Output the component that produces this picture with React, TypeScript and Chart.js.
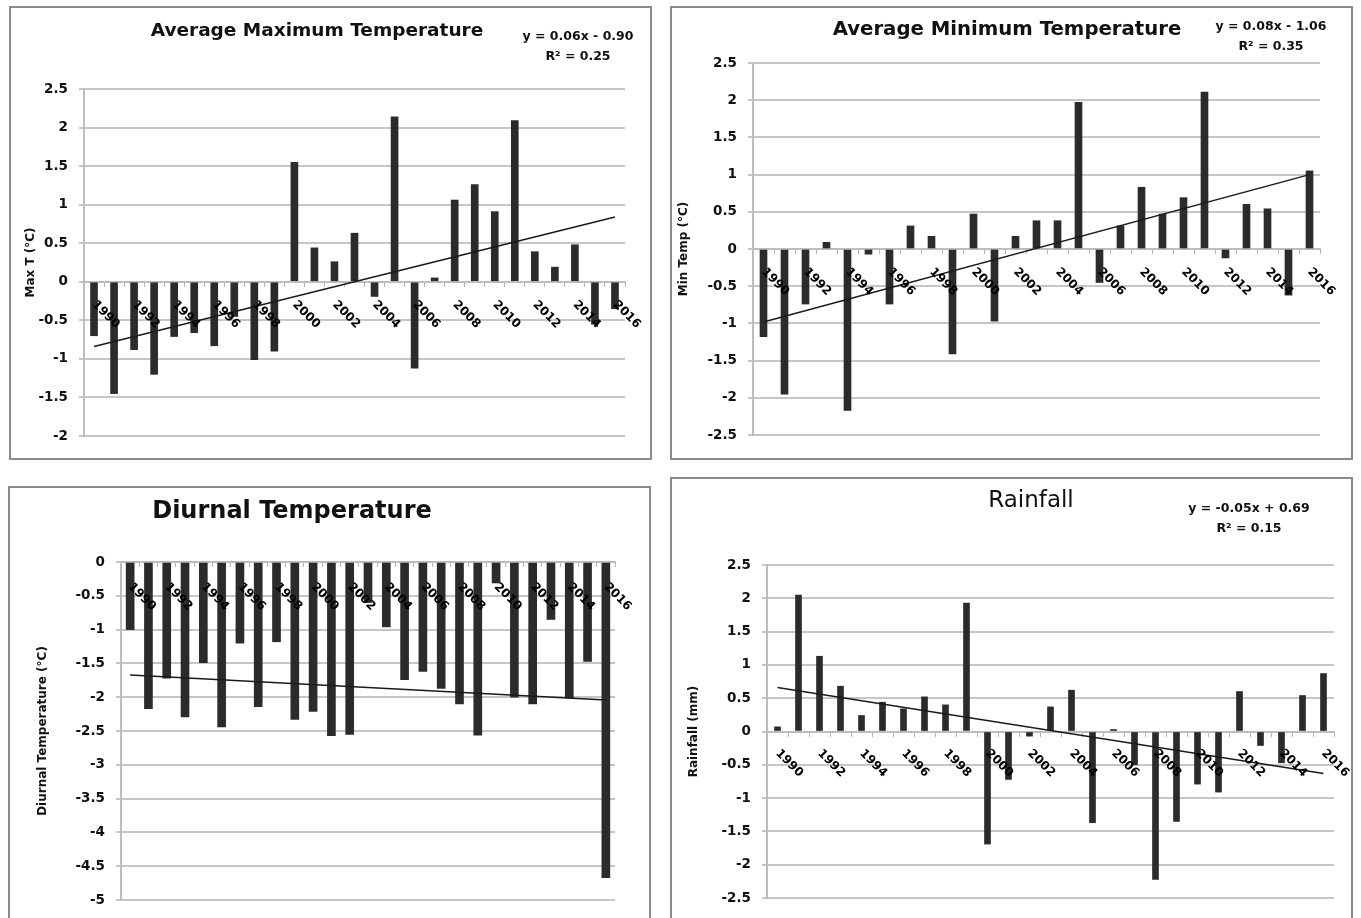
import React, { useEffect, useRef } from "react";
import { Chart, registerables } from "chart.js";

Chart.register(...registerables);

// ---------- DATA ----------
const years = [
  "1990", "1991", "1992", "1993", "1994", "1995", "1996", "1997", "1998", "1999",
  "2000", "2001", "2002", "2003", "2004", "2005", "2006", "2007", "2008", "2009",
  "2010", "2011", "2012", "2013", "2014", "2015", "2016",
];

const xTickLabels = [
  "1990", "1992", "1994", "1996", "1998", "2000", "2002",
  "2004", "2006", "2008", "2010", "2012", "2014", "2016",
];

const maxTempAnomaly = [
  -0.7, -1.45, -0.88, -1.2, -0.71, -0.66, -0.83, -0.45, -1.01, -0.9,
  1.55, 0.44, 0.26, 0.63, -0.19, 2.14, -1.12, 0.05, 1.06, 1.26,
  0.91, 2.09, 0.39, 0.19, 0.48, -0.55, -0.35,
];

const minTempAnomaly = [
  -1.18, -1.95, -0.74, 0.09, -2.17, -0.07, -0.74, 0.31, 0.17, -1.41,
  0.47, -0.97, 0.17, 0.38, 0.38, 1.97, -0.45, 0.31, 0.83, 0.47,
  0.69, 2.11, -0.12, 0.6, 0.54, -0.62, 1.05,
];

const diurnalAnomaly = [
  -1.0, -2.17, -1.72, -2.29, -1.49, -2.44, -1.2, -2.14, -1.18, -2.33,
  -2.21, -2.57, -2.55, -0.6, -0.96, -1.74, -1.62, -1.87, -2.1, -2.56,
  -0.31, -2.0, -2.1, -0.85, -2.01, -1.47, -4.67,
];

const rainfallAnomaly = [
  0.07, 2.05, 1.13, 0.68, 0.24, 0.44, 0.34, 0.52, 0.4, 1.93,
  -1.69, -0.72, -0.07, 0.37, 0.62, -1.37, 0.03, -0.5, -2.22, -1.35,
  -0.79, -0.91, 0.6, -0.21, -0.47, 0.54, 0.87,
];

// trend line end points (first year, last year)
const maxTrendEnds = [-0.84, 0.84];
const minTrendEnds = [-0.98, 1.0];
const diurnalTrendEnds = [-1.67, -2.04];
const rainfallTrendEnds = [0.66, -0.63];

const maxEquation = ["y = 0.06x - 0.90", "R² = 0.25"];
const minEquation = ["y = 0.08x - 1.06", "R² = 0.35"];
const rainfallEquation = ["y = -0.05x + 0.69", "R² = 0.15"];

// ---------- LAYOUT / STYLE ----------
type Box = { left: number; top: number; width: number; height: number };
type Plot = { left: number; right: number; top: number; bottom: number };
type PanelDef = {
  key: string;
  title: string;
  titleFont: string;
  titleX: number;
  titleY: number;
  yTitle: string;
  yTitleX: number;
  values: number[];
  trendEnds: number[];
  equation: string[] | null;
  eqX: number;
  eqY: number;
  yMin: number;
  yMax: number;
  box: Box;
  plot: Plot;
  barThickness: number;
  labelDy: number;
};

const SANS = "'DejaVu Sans'";

const PANELS: PanelDef[] = [
  {
    key: "max",
    title: "Average Maximum Temperature",
    titleFont: "bold 18.5px " + SANS,
    titleX: 317,
    titleY: 31,
    yTitle: "Max T (°C)",
    yTitleX: 31,
    values: maxTempAnomaly,
    trendEnds: maxTrendEnds,
    equation: maxEquation,
    eqX: 578,
    eqY: 37,
    yMin: -2,
    yMax: 2.5,
    box: { left: 9, top: 6, width: 643, height: 454 },
    plot: { left: 84, right: 625, top: 89, bottom: 436 },
    barThickness: 7,
    labelDy: 21,
  },
  {
    key: "min",
    title: "Average Minimum Temperature",
    titleFont: "bold 19.7px " + SANS,
    titleX: 1007,
    titleY: 30,
    yTitle: "Min Temp (°C)",
    yTitleX: 684,
    values: minTempAnomaly,
    trendEnds: minTrendEnds,
    equation: minEquation,
    eqX: 1271,
    eqY: 27,
    yMin: -2.5,
    yMax: 2.5,
    box: { left: 670, top: 6, width: 683, height: 454 },
    plot: { left: 753, right: 1320, top: 63, bottom: 435 },
    barThickness: 7,
    labelDy: 21,
  },
  {
    key: "diurnal",
    title: "Diurnal Temperature",
    titleFont: "bold 24px " + SANS,
    titleX: 292,
    titleY: 512,
    yTitle: "Diurnal Temperature (°C)",
    yTitleX: 43,
    values: diurnalAnomaly,
    trendEnds: diurnalTrendEnds,
    equation: null,
    eqX: 0,
    eqY: 0,
    yMin: -5,
    yMax: 0,
    box: { left: 8, top: 486, width: 643, height: 460 },
    plot: { left: 121, right: 615, top: 562, bottom: 900 },
    barThickness: 8,
    labelDy: 23,
  },
  {
    key: "rain",
    title: "Rainfall",
    titleFont: "23px " + SANS,
    titleX: 1031,
    titleY: 501,
    yTitle: "Rainfall (mm)",
    yTitleX: 694,
    values: rainfallAnomaly,
    trendEnds: rainfallTrendEnds,
    equation: rainfallEquation,
    eqX: 1249,
    eqY: 509,
    yMin: -2.5,
    yMax: 2.5,
    box: { left: 670, top: 477, width: 683, height: 470 },
    plot: { left: 767, right: 1334, top: 565, bottom: 898 },
    barThickness: 6,
    labelDy: 20,
  },
];

function trendSeries(ends: number[]) {
  return years.map((_, i) =>
    i === 0 ? ends[0] : i === years.length - 1 ? ends[1] : null
  );
}

function PanelChart({ p }: { p: PanelDef }) {
  const ref = useRef<HTMLCanvasElement>(null);

  useEffect(() => {
    const canvas = ref.current;
    if (!canvas) return;
    const bx = p.box.left;
    const by = p.box.top;

    const overlay = {
      id: "overlay-" + p.key,
      afterDatasetsDraw(chart: any) {
        const ctx = chart.ctx as CanvasRenderingContext2D;
        const xs = chart.scales.x;
        const ys = chart.scales.y;
        const zeroY = ys.getPixelForValue(0);
        ctx.save();
        ctx.fillStyle = "#000";
        ctx.font = "bold 12px " + SANS;
        ctx.textAlign = "left";
        ctx.textBaseline = "middle";
        for (const lbl of xTickLabels) {
          const i = years.indexOf(lbl);
          const x = xs.getPixelForValue(i);
          ctx.save();
          ctx.translate(x, zeroY + p.labelDy);
          ctx.rotate(Math.PI / 4);
          ctx.fillText(lbl, 0, 0);
          ctx.restore();
        }
        ctx.restore();
      },
      afterDraw(chart: any) {
        const ctx = chart.ctx as CanvasRenderingContext2D;
        ctx.save();
        ctx.fillStyle = "#111";
        ctx.textAlign = "center";
        ctx.textBaseline = "middle";
        ctx.font = p.titleFont;
        ctx.fillText(p.title, p.titleX - bx, p.titleY - by);
        if (p.equation) {
          ctx.font = "bold 12.5px " + SANS;
          ctx.fillText(p.equation[0], p.eqX - bx, p.eqY - by);
          ctx.fillText(p.equation[1], p.eqX - bx, p.eqY + 20 - by);
        }
        // y axis title
        ctx.font = "bold 12px " + SANS;
        ctx.translate(p.yTitleX - bx, (p.plot.top + p.plot.bottom) / 2 - by);
        ctx.rotate(-Math.PI / 2);
        ctx.fillText(p.yTitle, 0, 0);
        ctx.restore();
      },
    };

    const yWidth = p.plot.left - bx;
    const chart = new Chart(canvas, {
      type: "bar",
      data: {
        labels: years,
        datasets: [
          {
            type: "line",
            data: trendSeries(p.trendEnds),
            borderColor: "#1a1a1a",
            borderWidth: 1.5,
            pointRadius: 0,
            spanGaps: true,
            fill: false,
            order: 0,
          } as any,
          {
            type: "bar",
            data: p.values,
            backgroundColor: "#2b2b2b",
            barThickness: p.barThickness,
            categoryPercentage: 1,
            order: 1,
          },
        ],
      },
      options: {
        responsive: false,
        animation: false,
        devicePixelRatio: 1,
        events: [],
        layout: {
          padding: {
            left: 0,
            top: p.plot.top - by,
            right: bx + p.box.width - p.plot.right,
            bottom: by + p.box.height - p.plot.bottom,
          },
        },
        plugins: {
          legend: { display: false },
          tooltip: { enabled: false },
          title: { display: false },
        },
        scales: {
          x: {
            type: "category",
            position: { y: 0 } as any,
            offset: true,
            ticks: { display: false },
            grid: {
              display: true,
              drawOnChartArea: false,
              drawTicks: true,
              tickLength: 4,
              color: "#b5b5b5",
              lineWidth: 1,
              offset: true,
            },
            border: { display: true, color: "#bdbdbd", width: 2 },
          },
          y: {
            type: "linear",
            min: p.yMin,
            max: p.yMax,
            afterFit(scale: any) {
              scale.width = yWidth;
            },
            ticks: {
              stepSize: 0.5,
              padding: 11,
              color: "#111",
              font: { family: "DejaVu Sans", size: 13.5, weight: "bold" },
              callback: (v: any) => String(v),
            },
            grid: {
              color: "#c6c6c6",
              lineWidth: 2,
              drawTicks: true,
              tickLength: 5,
            },
            border: { display: true, color: "#bdbdbd", width: 2 },
          },
        },
      },
      plugins: [overlay],
    });
    return () => chart.destroy();
  }, [p]);

  return (
    <canvas
      ref={ref}
      width={p.box.width}
      height={p.box.height}
      style={{
        position: "absolute",
        left: p.box.left,
        top: p.box.top,
        width: p.box.width,
        height: p.box.height,
      }}
    />
  );
}

export default function App() {
  return (
    <div
      style={{
        position: "fixed",
        left: 0,
        top: 0,
        width: 1361,
        height: 918,
        overflow: "hidden",
        background: "#fff",
      }}
    >
      {PANELS.map((p) => (
        <div
          key={"box-" + p.key}
          style={{
            position: "absolute",
            left: p.box.left,
            top: p.box.top,
            width: p.box.width,
            height: p.box.height,
            border: "2px solid #8a8a8a",
            boxSizing: "border-box",
          }}
        />
      ))}
      {PANELS.map((p) => (
        <PanelChart key={p.key} p={p} />
      ))}
    </div>
  );
}
